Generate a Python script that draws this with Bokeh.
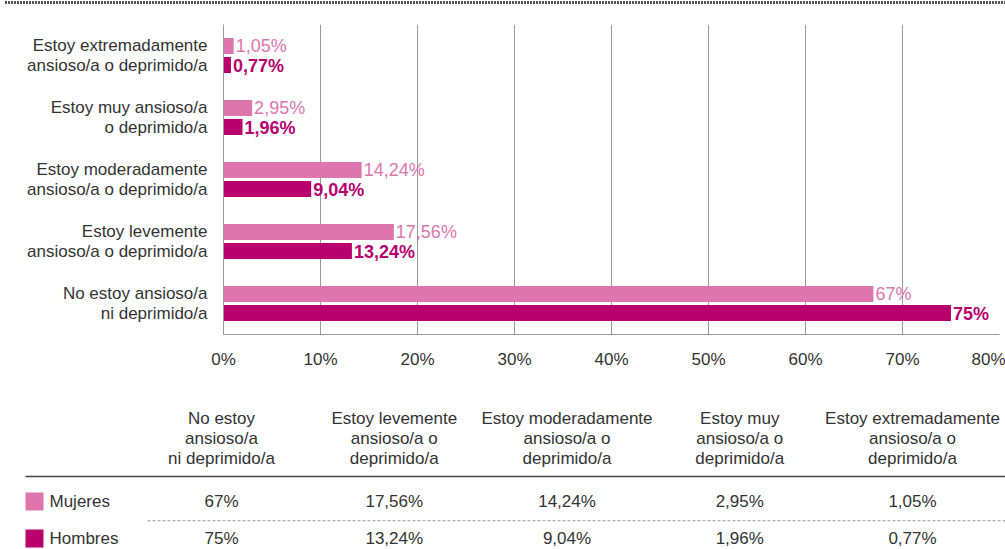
from bokeh.plotting import figure
from bokeh.models import FactorRange, Range1d, FixedTicker, PrintfTickFormatter, ColumnDataSource, Div
from bokeh.transform import dodge
from bokeh.layouts import column
from bokeh.core.properties import value
from bokeh.embed import file_html
from bokeh.resources import INLINE

# ---------------- data ----------------
categories = [
    "No estoy ansioso/a ni deprimido/a",
    "Estoy levemente ansioso/a o deprimido/a",
    "Estoy moderadamente ansioso/a o deprimido/a",
    "Estoy muy ansioso/a o deprimido/a",
    "Estoy extremadamente ansioso/a o deprimido/a",
]
chart_labels = [
    "No estoy ansioso/a\nni deprimido/a",
    "Estoy levemente\nansioso/a o deprimido/a",
    "Estoy moderadamente\nansioso/a o deprimido/a",
    "Estoy muy ansioso/a\no deprimido/a",
    "Estoy extremadamente\nansioso/a o deprimido/a",
]
table_headers = [
    "No estoy\nansioso/a\nni deprimido/a",
    "Estoy levemente\nansioso/a o\ndeprimido/a",
    "Estoy moderadamente\nansioso/a o\ndeprimido/a",
    "Estoy muy\nansioso/a o\ndeprimido/a",
    "Estoy extremadamente\nansioso/a o\ndeprimido/a",
]
series = ["Mujeres", "Hombres"]
mujeres = [67, 17.56, 14.24, 2.95, 1.05]
hombres = [75, 13.24, 9.04, 1.96, 0.77]
x_ticks = [0, 10, 20, 30, 40, 50, 60, 70, 80]

# ---------------- style ----------------
FONT = "Liberation Sans"
TXT = "#333333"
PINK = "#de76ad"
DARK = "#b7006e"
GRID = "#9a9a9a"
FS = "17px"
W = 1005


def fmt(v):
    return f"{v:g}".replace(".", ",") + "%"


muj_lbl = [fmt(v) for v in mujeres]
hom_lbl = [fmt(v) for v in hombres]


def no_align(fig):
    try:
        fig.frame_align = False
    except Exception:
        pass


# ---------------- dotted top rule ----------------
rule = Div(text="", width=W, height=5, margin=0,
           styles={"background-image": "repeating-linear-gradient(to right, #555555 0px, #555555 2px, transparent 2px, transparent 3px)",
                   "background-size": "1000px 3px",
                   "background-position": "5px 1px",
                   "background-repeat": "no-repeat"})

# ---------------- bar chart ----------------
src = ColumnDataSource(dict(cat=chart_labels, muj=mujeres, hom=hombres,
                            muj_lbl=muj_lbl, hom_lbl=hom_lbl))

p = figure(width=W, height=367, y_range=FactorRange(factors=chart_labels),
           x_range=Range1d(0, 80), toolbar_location=None, output_backend="svg",
           min_border_left=223, min_border_right=6, min_border_top=19,
           min_border_bottom=38)
no_align(p)
p.outline_line_color = None
OFF = 0.153
BH = 0.258
p.hbar(y=dodge("cat", OFF, range=p.y_range), right="muj", left=0, height=BH,
       color=PINK, line_color=None, source=src)
p.hbar(y=dodge("cat", -OFF, range=p.y_range), right="hom", left=0, height=BH,
       color=DARK, line_color=None, source=src)
p.text(x="muj", y=dodge("cat", OFF, range=p.y_range), text="muj_lbl", source=src,
       x_offset=2, text_baseline="middle", text_align="left", text_color=PINK,
       text_font=value(FONT), text_font_size="18px")
p.text(x="hom", y=dodge("cat", -OFF - 0.02, range=p.y_range), text="hom_lbl", source=src,
       x_offset=2, text_baseline="middle", text_align="left", text_color=DARK,
       text_font=value(FONT), text_font_size="18px", text_font_style="bold")

p.xaxis.ticker = FixedTicker(ticks=x_ticks)
p.xaxis.formatter = PrintfTickFormatter(format="%d%%")
for ax in (p.xaxis, p.yaxis):
    ax.major_tick_line_color = None
    ax.minor_tick_line_color = None
    ax.axis_line_color = GRID
    ax.major_label_text_font = FONT
    ax.major_label_text_font_size = FS
    ax.major_label_text_color = TXT
p.xaxis.major_label_standoff = 9
p.yaxis.major_label_standoff = 10
p.yaxis.major_label_text_line_height = 1.045
p.xgrid.grid_line_color = GRID
p.ygrid.grid_line_color = None

# ---------------- data table ----------------
COL_PX = 172.75      # spacing of table columns
FIRST_COL_PX = 221   # centre of first column in figure pixels
ROW_PX = 37
FIRST_ROW_PX = 129
TH = 177
HEADER_ROW = (438 - 372 - FIRST_ROW_PX) / ROW_PX
RULE_ROW = (476 - 372 - FIRST_ROW_PX) / ROW_PX
DASH_ROW = 0.52
LEGEND_X = (34 - FIRST_COL_PX) / COL_PX
RULE_X = (25 - FIRST_COL_PX) / COL_PX
DASH_X = (147 - FIRST_COL_PX) / COL_PX
x_end = (W - FIRST_COL_PX) / COL_PX

t = figure(width=W, height=TH,
           x_range=Range1d(-FIRST_COL_PX / COL_PX, x_end),
           y_range=Range1d((TH - FIRST_ROW_PX) / ROW_PX, -FIRST_ROW_PX / ROW_PX),
           min_border=0, toolbar_location=None, output_backend="svg")
no_align(t)
t.axis.visible = False
t.grid.visible = False
t.outline_line_color = None

cols = list(range(len(categories)))
t.text(x=cols, y=[HEADER_ROW] * len(cols), text=table_headers, text_align="center",
       text_baseline="middle", text_color=TXT, text_font=value(FONT),
       text_font_size=FS, text_line_height=1.07)
t.segment(x0=[RULE_X], y0=[RULE_ROW], x1=[x_end], y1=[RULE_ROW], line_color="#444444",
          line_width=1.5)
t.segment(x0=[DASH_X], y0=[DASH_ROW], x1=[x_end], y1=[DASH_ROW], line_color="#999999",
          line_width=1, line_dash="3 2")

for r, (name, lbls, colr) in enumerate([(series[0], muj_lbl, PINK), (series[1], hom_lbl, DARK)]):
    t.scatter(x=[LEGEND_X], y=[r], marker="square", size=18, color=colr, line_color=None)
    t.text(x=[LEGEND_X], y=[r], text=[name], x_offset=15, text_align="left",
           text_baseline="middle", text_color=TXT, text_font=value(FONT), text_font_size=FS)
    t.text(x=cols, y=[r] * len(cols), text=lbls, text_align="center",
           text_baseline="middle", text_color=TXT, text_font=value(FONT), text_font_size=FS)

layout = column(rule, p, t, spacing=0)
open("out.html", "w").write(file_html(layout, INLINE))
